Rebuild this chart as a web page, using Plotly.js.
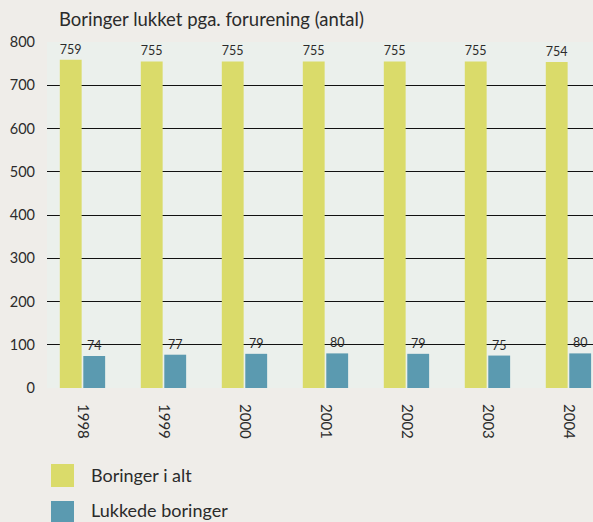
<!DOCTYPE html>
<html><head><meta charset="utf-8">
<script src="https://cdn.plot.ly/plotly-3.0.1.min.js"></script>
<style>html,body{margin:0;padding:0;background:#efede9;}</style>
</head><body>
<div id="chart" style="width:593px;height:522px;"></div>
<script>
const years = ['1998','1999','2000','2001','2002','2003','2004'];
const seriesNames = ['Boringer i alt', 'Lukkede boringer'];
const totalWells = [759, 755, 755, 755, 755, 755, 754];
const closedWells = [74, 77, 79, 80, 79, 75, 80];
const seriesColors = ['#dadb6a', '#5b9ab0'];

const W = 593, H = 522, L = 47, T = 42, B = 388, R = 593;
const pw = R - L, ph = B - T;
const px2x = p => (p - L) / pw;
const py2y = p => (B - p) / ph;
const FONT = 'Lato, "Open Sans", sans-serif';
const TXT = '#2b2b2b';

function barTrace(i, vals) {
  return {
    type: 'bar', x: years, y: vals, name: seriesNames[i],
    marker: {color: seriesColors[i]},
    text: vals.map(String), textposition: 'outside', cliponaxis: false,
    textfont: {family: FONT, size: 12.5, color: TXT},
    hoverinfo: 'x+y', showlegend: false
  };
}

const legendShapes = [], legendAnn = [];
const legRows = [[464, 487], [501, 524]];
const legTextY = [475.5, 510];
seriesNames.forEach((n, i) => {
  const [a, b] = legRows[i];
  legendShapes.push({type: 'rect', xref: 'paper', yref: 'paper',
    x0: px2x(51), x1: px2x(74), y0: py2y(a), y1: py2y(b),
    fillcolor: seriesColors[i], line: {width: 0}});
  legendAnn.push({xref: 'paper', yref: 'paper', x: px2x(89), y: py2y(legTextY[i]),
    xanchor: 'left', yanchor: 'middle', showarrow: false, text: n,
    font: {family: FONT, size: 18, color: TXT}});
});

const layout = {
  width: W, height: H,
  margin: {l: L, r: W - R, t: T, b: H - B, pad: 0},
  paper_bgcolor: '#efede9', plot_bgcolor: '#ebf0ec',
  font: {family: FONT, color: TXT},
  title: {text: 'Boringer lukket pga. forurening (antal)', xref: 'container', yref: 'container',
    x: 59 / W, xanchor: 'left', y: 1 - 20 / H, yanchor: 'middle',
    font: {family: FONT, size: 18.5, color: TXT}},
  barmode: 'group', bargap: 0.42, bargroupgap: 0.07,
  showlegend: false,
  xaxis: {type: 'category', range: [-0.438, 6.303], showgrid: false, zeroline: false,
    showline: false, ticks: '', tickangle: 90, ticklabelstandoff: 15,
    tickfont: {family: FONT, size: 15, color: TXT}},
  yaxis: {range: [0, 800], dtick: 100, showgrid: true, gridcolor: '#111111', gridwidth: 1,
    zeroline: false, showline: false, ticks: '', ticklabelstandoff: 11,
    tickfont: {family: FONT, size: 14.5, color: TXT}},
  shapes: legendShapes,
  annotations: legendAnn
};

Plotly.newPlot('chart', [barTrace(0, totalWells), barTrace(1, closedWells)], layout,
  {displayModeBar: false, staticPlot: true});
</script>
</body></html>
